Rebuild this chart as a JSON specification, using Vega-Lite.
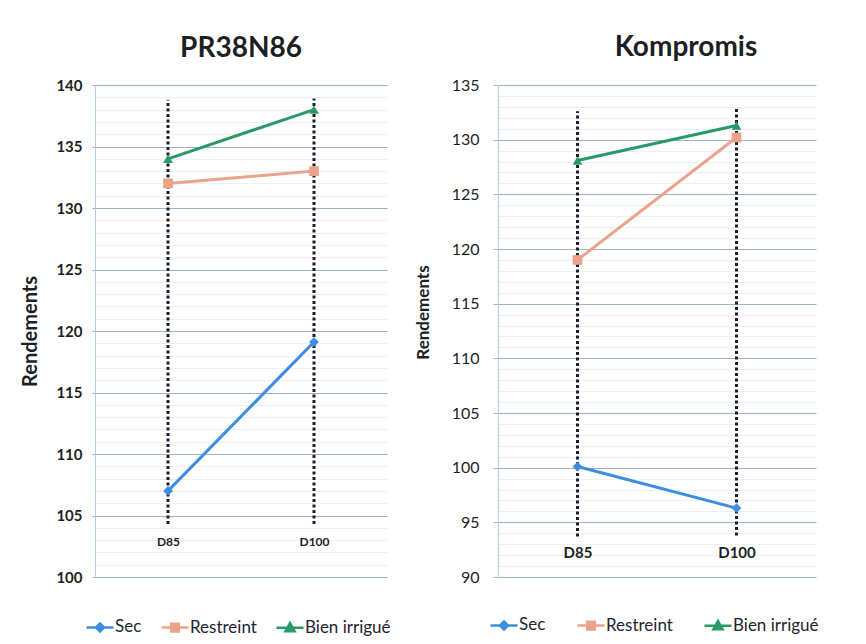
{
  "$schema": "https://vega.github.io/schema/vega-lite/v6.json",
  "background": "white",
  "padding": {"left": 20, "top": 34, "right": 5, "bottom": 5},
  "spacing": 23,
  "config": {
    "view": {"stroke": null},
    "font": "Lato",
    "title": {"font": "Lato", "fontSize": 28, "fontWeight": "bold", "color": "#1c1f24", "anchor": "middle"},
    "axis": {"labelFont": "Lato", "titleFont": "Lato", "labelColor": "#1c1f24", "titleColor": "#1c1f24"},
    "legend": {"labelFont": "Lato", "labelFontSize": 17, "labelColor": "#1e2530"}
  },
  "datasets": {
    "rendements": [
      {"variete": "PR38N86", "dose": "D85", "regime": "Sec", "rendement": 107.0},
      {"variete": "PR38N86", "dose": "D100", "regime": "Sec", "rendement": 119.1},
      {"variete": "PR38N86", "dose": "D85", "regime": "Restreint", "rendement": 132.0},
      {"variete": "PR38N86", "dose": "D100", "regime": "Restreint", "rendement": 133.0},
      {"variete": "PR38N86", "dose": "D85", "regime": "Bien irrigué", "rendement": 134.0},
      {"variete": "PR38N86", "dose": "D100", "regime": "Bien irrigué", "rendement": 138.0},
      {"variete": "Kompromis", "dose": "D85", "regime": "Sec", "rendement": 100.1},
      {"variete": "Kompromis", "dose": "D100", "regime": "Sec", "rendement": 96.3},
      {"variete": "Kompromis", "dose": "D85", "regime": "Restreint", "rendement": 119.0},
      {"variete": "Kompromis", "dose": "D100", "regime": "Restreint", "rendement": 130.2},
      {"variete": "Kompromis", "dose": "D85", "regime": "Bien irrigué", "rendement": 128.1},
      {"variete": "Kompromis", "dose": "D100", "regime": "Bien irrigué", "rendement": 131.3}
    ],
    "reperes": [
      {"variete": "PR38N86", "dose": "D85", "bas": 104.3, "haut": 138.8},
      {"variete": "PR38N86", "dose": "D100", "bas": 104.3, "haut": 138.9},
      {"variete": "Kompromis", "dose": "D85", "bas": 93.7, "haut": 132.6},
      {"variete": "Kompromis", "dose": "D100", "bas": 93.8, "haut": 132.8}
    ]
  },
  "hconcat": [
    {
      "title": {"text": "PR38N86", "offset": 15},
      "width": 292,
      "height": 492,
      "layer": [
        {
          "data": {"name": "reperes"},
          "transform": [{"filter": "datum.variete === 'PR38N86'"}],
          "mark": {"type": "rule", "strokeDash": [3, 2.5], "strokeWidth": 3, "color": "#1b1e2c"},
          "encoding": {
            "x": {"field": "dose", "type": "nominal", "scale": {"type": "point", "padding": 0.5, "domain": ["D85", "D100"]},
                  "axis": {"title": null, "domain": false, "ticks": false, "grid": false, "labelAngle": 0,
                           "labelPadding": -41, "labelFontSize": 12, "labelFontWeight": "bold"}},
            "y": {"field": "bas", "type": "quantitative",
              "scale": {"domain": [100, 140], "nice": false, "zero": false},
              "axis": {
                "title": "Rendements", "titleFontSize": 20, "titleFontWeight": "bold", "titlePadding": 15,
                "values": [100,101,102,103,104,105,106,107,108,109,110,111,112,113,114,115,116,117,118,119,120,121,122,123,124,125,126,127,128,129,130,131,132,133,134,135,136,137,138,139,140],
                "tickCount": 100, "format": "d",
                "labelExpr": "datum.value % 5 === 0 ? datum.label : ''",
                "labelOverlap": false, "labelFlush": false,
                "labelFontSize": 15, "labelFontWeight": "bold", "labelPadding": 10,
                "gridColor": {"condition": {"test": "datum.value % 5 === 0", "value": "#a3b0c2"}, "value": "#eceff4"},
                "tickColor": {"condition": {"test": "datum.value % 5 === 0", "value": "#a3b0c2"}, "value": "#ffffff"},
                "tickSize": 3,
                "domainColor": "#b9cce6"
              }},
            "y2": {"field": "haut"}
          }
        },
        {
          "data": {"name": "rendements"},
          "transform": [{"filter": "datum.variete === 'PR38N86'"}],
          "mark": {"type": "line", "strokeWidth": 3},
          "encoding": {
            "x": {"field": "dose", "type": "nominal"},
            "y": {"field": "rendement", "type": "quantitative"},
            "color": {"field": "regime", "type": "nominal",
                      "scale": {"domain": ["Sec", "Restreint", "Bien irrigué"], "range": ["#3b8ee0", "#eba38c", "#289a68"]},
                      "legend": {
                        "title": null, "orient": "none", "direction": "horizontal", "legendX": -10, "legendY": 527,
                        "symbolSize": 729, "symbolStrokeWidth": 2.5, "labelOffset": 0, "columnPadding": 14,
                        "encode": {
                          "symbols": {
                            "update": {
                              "shape": {"signal": "datum.value === 'Sec' ? 'M-1,0H1M0,-0.3L0.3,0L0,0.3L-0.3,0Z' : datum.value === 'Restreint' ? 'M-1,0H1M-0.28,-0.28H0.28V0.28H-0.28Z' : 'M-1,0H1M0,-0.34L0.34,0.26H-0.34Z'"},
                              "fill": {"signal": "datum.value === 'Sec' ? '#3b8ee0' : datum.value === 'Restreint' ? '#eba38c' : '#289a68'"},
                              "stroke": {"signal": "datum.value === 'Sec' ? '#3b8ee0' : datum.value === 'Restreint' ? '#eba38c' : '#289a68'"},
                              "opacity": {"value": 1},
                              "fillOpacity": {"value": 1}
                            }
                          }
                        }
                      }}
          }
        },
        {
          "data": {"name": "rendements"},
          "transform": [{"filter": "datum.variete === 'PR38N86'"}],
          "mark": {"type": "point", "filled": true, "size": 95, "opacity": 1},
          "encoding": {
            "x": {"field": "dose", "type": "nominal"},
            "y": {"field": "rendement", "type": "quantitative"},
            "shape": {"condition": [{"test": "datum.regime === 'Sec'", "value": "diamond"}, {"test": "datum.regime === 'Restreint'", "value": "square"}], "value": "triangle-up"},
            "color": {"condition": [{"test": "datum.regime === 'Sec'", "value": "#3b8ee0"}, {"test": "datum.regime === 'Restreint'", "value": "#eba38c"}], "value": "#289a68"}
          }
        }
      ]
    },
    {
      "title": {"text": "Kompromis", "offset": 15, "dx": 29},
      "width": 318,
      "height": 492,
      "layer": [
        {
          "data": {"name": "reperes"},
          "transform": [{"filter": "datum.variete === 'Kompromis'"}],
          "mark": {"type": "rule", "strokeDash": [3, 2.5], "strokeWidth": 3, "color": "#1b1e2c"},
          "encoding": {
            "x": {"field": "dose", "type": "nominal", "scale": {"type": "point", "padding": 0.5, "domain": ["D85", "D100"]},
                  "axis": {"title": null, "domain": false, "ticks": false, "grid": false, "labelAngle": 0,
                           "labelPadding": -32, "labelFontSize": 15, "labelFontWeight": "bold"}},
            "y": {"field": "bas", "type": "quantitative",
              "scale": {"domain": [90, 135], "nice": false, "zero": false},
              "axis": {
                "title": "Rendements", "titleFontSize": 17, "titleFontWeight": "bold", "titlePadding": 19, "titleY": 227,
                "values": [90,91,92,93,94,95,96,97,98,99,100,101,102,103,104,105,106,107,108,109,110,111,112,113,114,115,116,117,118,119,120,121,122,123,124,125,126,127,128,129,130,131,132,133,134,135],
                "tickCount": 100, "format": "d",
                "labelExpr": "datum.value % 5 === 0 ? datum.label : ''",
                "labelOverlap": false, "labelFlush": false,
                "labelFontSize": 16, "labelPadding": 14,
                "gridColor": {"condition": {"test": "datum.value % 5 === 0", "value": "#a3b0c2"}, "value": "#eceff4"},
                "tickColor": {"condition": {"test": "datum.value % 5 === 0", "value": "#a3b0c2"}, "value": "#ffffff"},
                "tickSize": 5,
                "domainColor": "#b9cce6"
              }},
            "y2": {"field": "haut"}
          }
        },
        {
          "data": {"name": "rendements"},
          "transform": [{"filter": "datum.variete === 'Kompromis'"}],
          "mark": {"type": "line", "strokeWidth": 3},
          "encoding": {
            "x": {"field": "dose", "type": "nominal"},
            "y": {"field": "rendement", "type": "quantitative"},
            "color": {"field": "regime", "type": "nominal",
                      "scale": {"domain": ["Sec", "Restreint", "Bien irrigué"], "range": ["#3b8ee0", "#eba38c", "#289a68"]},
                      "legend": {
                        "title": null, "orient": "none", "direction": "horizontal", "legendX": -9, "legendY": 525,
                        "symbolSize": 729, "symbolStrokeWidth": 2.5, "labelOffset": 0, "columnPadding": 26,
                        "encode": {
                          "symbols": {
                            "update": {
                              "shape": {"signal": "datum.value === 'Sec' ? 'M-1,0H1M0,-0.3L0.3,0L0,0.3L-0.3,0Z' : datum.value === 'Restreint' ? 'M-1,0H1M-0.28,-0.28H0.28V0.28H-0.28Z' : 'M-1,0H1M0,-0.34L0.34,0.26H-0.34Z'"},
                              "fill": {"signal": "datum.value === 'Sec' ? '#3b8ee0' : datum.value === 'Restreint' ? '#eba38c' : '#289a68'"},
                              "stroke": {"signal": "datum.value === 'Sec' ? '#3b8ee0' : datum.value === 'Restreint' ? '#eba38c' : '#289a68'"},
                              "opacity": {"value": 1},
                              "fillOpacity": {"value": 1}
                            }
                          }
                        }
                      }}
          }
        },
        {
          "data": {"name": "rendements"},
          "transform": [{"filter": "datum.variete === 'Kompromis'"}],
          "mark": {"type": "point", "filled": true, "size": 95, "opacity": 1},
          "encoding": {
            "x": {"field": "dose", "type": "nominal"},
            "y": {"field": "rendement", "type": "quantitative"},
            "shape": {"condition": [{"test": "datum.regime === 'Sec'", "value": "diamond"}, {"test": "datum.regime === 'Restreint'", "value": "square"}], "value": "triangle-up"},
            "color": {"condition": [{"test": "datum.regime === 'Sec'", "value": "#3b8ee0"}, {"test": "datum.regime === 'Restreint'", "value": "#eba38c"}], "value": "#289a68"}
          }
        }
      ]
    }
  ],
  "resolve": {
    "scale": {"x": "independent", "y": "independent", "color": "independent"},
    "legend": {"color": "independent"}
  }
}
